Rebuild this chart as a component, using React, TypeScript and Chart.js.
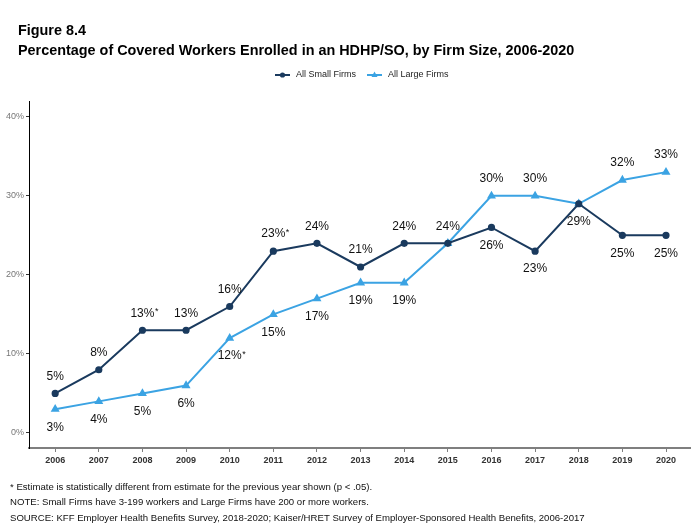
import React, { useEffect, useRef } from "react";
import { Chart, registerables } from "chart.js";

Chart.register(...registerables);

const years = [2006, 2007, 2008, 2009, 2010, 2011, 2012, 2013, 2014, 2015, 2016, 2017, 2018, 2019, 2020];
const smallFirms = [5, 8, 13, 13, 16, 23, 24, 21, 24, 24, 26, 23, 29, 25, 25];
const largeFirms = [3, 4, 5, 6, 12, 15, 17, 19, 19, 24, 30, 30, 29, 32, 33];
// label placement: a = above, b = below, n = none
const smallLabelPos = ["a", "a", "a", "a", "a", "a", "a", "a", "a", "a", "b", "b", "n", "b", "b"];
const largeLabelPos = ["b", "b", "b", "b", "b", "b", "b", "b", "b", "n", "a", "a", "b", "a", "a"];
const smallStar = [false, false, true, false, false, true, false, false, false, false, false, false, false, false, false];
const largeStar = [false, false, false, false, true, false, false, false, false, false, false, false, false, false, false];
const yTicks = [0, 10, 20, 30, 40];
const seriesNames = ["All Small Firms", "All Large Firms"];
const figureLabel = "Figure 8.4";
const chartTitle = "Percentage of Covered Workers Enrolled in an HDHP/SO, by Firm Size, 2006-2020";
const footnotes = [
  "* Estimate is statistically different from estimate for the previous year shown (p < .05).",
  "NOTE: Small Firms have 3-199 workers and Large Firms have 200 or more workers.",
  "SOURCE: KFF Employer Health Benefits Survey, 2018-2020; Kaiser/HRET Survey of Employer-Sponsored Health Benefits, 2006-2017",
];

const DARK = "#1a3a5e";
const LIGHT = "#3ba3e3";
const FONT = "Arial, 'Liberation Sans', sans-serif";

const decorPlugin = {
  id: "decor",
  afterDatasetsDraw(chart: any) {
    const ctx = chart.ctx as CanvasRenderingContext2D;
    const xs = chart.scales.x;
    const ys = chart.scales.y;
    ctx.save();
    ctx.fillStyle = "#111";
    ctx.textBaseline = "middle";
    const drawLabel = (vals: number[], pos: string[], star: boolean[]) => {
      vals.forEach((v, i) => {
        if (pos[i] === "n") return;
        const px = xs.getPixelForValue(years[i]);
        const py = ys.getPixelForValue(v);
        const ly = pos[i] === "a" ? py - 17 : py + 18;
        const t = v + "%";
        ctx.font = `12px ${FONT}`;
        ctx.textAlign = "center";
        ctx.fillText(t, px, ly);
        if (star[i]) {
          const w = ctx.measureText(t).width;
          ctx.font = `9px ${FONT}`;
          ctx.textAlign = "left";
          ctx.fillText("*", px + w / 2 + 0.5, ly - 2);
        }
      });
    };
    drawLabel(smallFirms, smallLabelPos, smallStar);
    drawLabel(largeFirms, largeLabelPos, largeStar);
    ctx.restore();
  },
  afterDraw(chart: any) {
    const ctx = chart.ctx as CanvasRenderingContext2D;
    ctx.save();
    ctx.fillStyle = "#000";
    ctx.textAlign = "left";
    ctx.textBaseline = "alphabetic";
    ctx.font = `bold 14.4px ${FONT}`;
    ctx.fillText(figureLabel, 18, 35);
    ctx.fillText(chartTitle, 18, 55);

    // legend
    ctx.font = `9px ${FONT}`;
    ctx.textBaseline = "middle";
    const ly = 75;
    const items = [
      { x: 275, color: DARK, shape: "circle" },
      { x: 367, color: LIGHT, shape: "triangle" },
    ];
    items.forEach((it, k) => {
      ctx.strokeStyle = it.color;
      ctx.fillStyle = it.color;
      ctx.lineWidth = 2;
      ctx.beginPath();
      ctx.moveTo(it.x, ly);
      ctx.lineTo(it.x + 15, ly);
      ctx.stroke();
      ctx.beginPath();
      if (it.shape === "circle") {
        ctx.arc(it.x + 7.5, ly, 2.6, 0, Math.PI * 2);
      } else {
        ctx.moveTo(it.x + 7.5, ly - 3.5);
        ctx.lineTo(it.x + 10.5, ly + 2);
        ctx.lineTo(it.x + 4.5, ly + 2);
        ctx.closePath();
      }
      ctx.fill();
      ctx.fillStyle = "#222";
      ctx.fillText(seriesNames[k], it.x + 21, ly);
    });

    // footnotes
    ctx.fillStyle = "#111";
    ctx.font = `9.6px ${FONT}`;
    ctx.textBaseline = "middle";
    footnotes.forEach((f, i) => ctx.fillText(f, 10, 487 + i * 15.5));
    ctx.restore();
  },
};

export default function App() {
  const ref = useRef<HTMLCanvasElement | null>(null);
  useEffect(() => {
    document.body.style.margin = "0";
    const canvas = ref.current!;
    const chart = new Chart(canvas, {
      type: "line",
      data: {
        datasets: [
          {
            label: seriesNames[0],
            data: years.map((y, i) => ({ x: y, y: smallFirms[i] })),
            borderColor: DARK,
            backgroundColor: DARK,
            borderWidth: 2,
            pointStyle: "circle",
            pointRadius: 2.6,
            pointHoverRadius: 2.6,
            tension: 0,
          },
          {
            label: seriesNames[1],
            data: years.map((y, i) => ({ x: y, y: largeFirms[i] })),
            borderColor: LIGHT,
            backgroundColor: LIGHT,
            borderWidth: 2,
            pointStyle: "triangle",
            pointRadius: 3.2,
            pointHoverRadius: 3.2,
            tension: 0,
          },
        ],
      },
      options: {
        animation: false,
        responsive: false,
        devicePixelRatio: 1,
        layout: { padding: { left: 0, right: 8, top: 101, bottom: 0 } },
        plugins: { legend: { display: false }, title: { display: false }, tooltip: { enabled: false } },
        scales: {
          x: {
            type: "linear",
            min: 2005.4,
            max: 2020.55,
            afterBuildTicks: (s: any) => {
              s.ticks = years.map((v) => ({ value: v }));
            },
            afterFit: (s: any) => {
              s.height = 77;
            },
            grid: {
              display: true,
              drawOnChartArea: false,
              drawTicks: true,
              tickLength: 4,
              color: "#7f7f7f",
            },
            border: { display: true, color: "#7f7f7f", width: 2 },
            ticks: {
              autoSkip: false,
              maxRotation: 0,
              padding: 3,
              color: "#333",
              font: { family: FONT, size: 9, weight: "bold" },
              callback: (v: any) => String(v),
            },
          },
          y: {
            min: -1.9,
            max: 42,
            afterBuildTicks: (s: any) => {
              s.ticks = yTicks.map((v) => ({ value: v }));
            },
            afterFit: (s: any) => {
              s.width = 29;
            },
            grid: {
              display: true,
              drawOnChartArea: false,
              drawTicks: true,
              tickLength: 3,
              color: "#333",
            },
            border: { display: true, color: "#000", width: 1 },
            ticks: {
              padding: 2,
              color: "#777",
              font: { family: FONT, size: 9 },
              callback: (v: any) => v + "%",
            },
          },
        },
      },
      plugins: [decorPlugin],
    } as any);
    return () => chart.destroy();
  }, []);
  return <canvas ref={ref} width={698} height={525} style={{ display: "block", width: 698, height: 525 }} />;
}
